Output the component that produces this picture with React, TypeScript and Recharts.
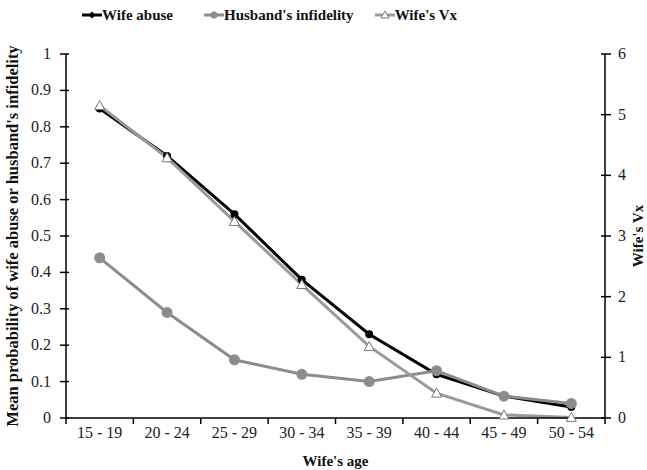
import React from 'react';
import { LineChart, Line, XAxis, YAxis } from 'recharts';

const ageGroups = ['15 - 19', '20 - 24', '25 - 29', '30 - 34', '35 - 39', '40 - 44', '45 - 49', '50 - 54'];
const wifeAbuse = [0.85, 0.72, 0.56, 0.38, 0.23, 0.12, 0.06, 0.03];
const husbandInfidelity = [0.44, 0.29, 0.16, 0.12, 0.1, 0.13, 0.06, 0.04];
const wifeVx = [5.15, 4.29, 3.24, 2.2, 1.18, 0.41, 0.05, 0.01];
const leftTicks = [0, 0.1, 0.2, 0.3, 0.4, 0.5, 0.6, 0.7, 0.8, 0.9, 1];
const rightTicks = [0, 1, 2, 3, 4, 5, 6];

const data = ageGroups.map((age, i) => ({
  age,
  abuse: wifeAbuse[i],
  infidelity: husbandInfidelity[i],
  vx: wifeVx[i],
}));

const FONT = '"Liberation Serif", "Times New Roman", serif';
const BLACK = '#000000';
const GRAY = '#8c8c8c';
const VX_GRAY = '#9a9a9a';

const W = 647;
const H = 470;
const LEFT_W = 66;
const RIGHT_W = 42;
const BAND = (W - LEFT_W - RIGHT_W) / ageGroups.length;

const XTick = (props: any) => {
  const { x, y, payload, index } = props;
  const top = y - 8;
  return (
    <g>
      <line x1={x - BAND / 2} y1={top} x2={x - BAND / 2} y2={top + 6} stroke="#000" strokeWidth={1.5} />
      {index === ageGroups.length - 1 && (
        <line x1={x + BAND / 2} y1={top} x2={x + BAND / 2} y2={top + 6} stroke="#000" strokeWidth={1.5} />
      )}
      <text x={x} y={y + 12} textAnchor="middle" fontFamily={FONT} fontSize={16} fill="#222">
        {payload.value}
      </text>
    </g>
  );
};

const LeftTick = (props: any) => {
  const { x, y, payload } = props;
  const ax = x + 7;
  return (
    <g>
      <line x1={ax - 5} y1={y} x2={ax + 4} y2={y} stroke="#000" strokeWidth={1.5} />
      <text x={ax - 14} y={y + 5} textAnchor="end" fontFamily={FONT} fontSize={16} fill="#222">
        {payload.value}
      </text>
    </g>
  );
};

const RightTick = (props: any) => {
  const { x, y, payload } = props;
  const ax = x - 7;
  return (
    <g>
      <line x1={ax - 5} y1={y} x2={ax + 5} y2={y} stroke="#000" strokeWidth={1.5} />
      <text x={ax + 12} y={y + 5} textAnchor="start" fontFamily={FONT} fontSize={16} fill="#222">
        {payload.value}
      </text>
    </g>
  );
};

const TriangleDot = (props: any) => {
  const { cx, cy, index } = props;
  if (cx == null || cy == null) return null;
  const s = 5;
  return (
    <path
      key={`tri-${index}`}
      d={`M${cx},${cy - s} L${cx + s},${cy + s * 0.8} L${cx - s},${cy + s * 0.8} Z`}
      fill="#fff"
      stroke="#777"
      strokeWidth={1}
    />
  );
};

// legend sits above the plot without taking space from it
const ChartLegend = () => {
  const items = [
    { label: 'Wife abuse', color: BLACK, marker: 'diamond', gap: 31 },
    { label: "Husband's infidelity", color: GRAY, marker: 'circle', gap: 21 },
    { label: "Wife's Vx", color: VX_GRAY, marker: 'triangle', gap: 0 },
  ];
  return (
    <div
      style={{
        position: 'absolute',
        top: 6,
        left: 82,
        display: 'flex',
        fontFamily: FONT,
        fontSize: 15,
        fontWeight: 'bold',
        color: '#111',
        lineHeight: '18px',
      }}
    >
      {items.map((it) => (
        <span key={it.label} style={{ display: 'flex', alignItems: 'center', marginRight: it.gap }}>
          <svg width={20} height={12}>
            <line x1={0} y1={6} x2={20} y2={6} stroke={it.color} strokeWidth={3} />
            {it.marker === 'diamond' && <path d="M10,2.5 L13.5,6 L10,9.5 L6.5,6 Z" fill={it.color} />}
            {it.marker === 'circle' && <circle cx={10} cy={6} r={3.5} fill={it.color} />}
            {it.marker === 'triangle' && <path d="M10,2 L14,9 L6,9 Z" fill="#fff" stroke="#777" strokeWidth={1} />}
          </svg>
          {it.label}
        </span>
      ))}
    </div>
  );
};

export default function App() {
  return (
    <div style={{ position: 'absolute', left: 0, top: 0, width: W, height: H, background: '#fff' }}>
      <LineChart width={W} height={H} data={data} margin={{ top: 54, right: 0, bottom: 0, left: 0 }}>
        <XAxis
          dataKey="age"
          height={52}
          padding={{ left: BAND / 2, right: BAND / 2 }}
          tick={<XTick />}
          tickLine={false}
          axisLine={{ stroke: '#000', strokeWidth: 1.5 }}
          interval={0}
          label={{ value: "Wife's age", position: 'insideBottom', offset: 4, fontFamily: FONT, fontSize: 15, fontWeight: 'bold', fill: '#111' }}
        />
        <YAxis
          yAxisId="left"
          width={LEFT_W}
          domain={[0, 1]}
          ticks={leftTicks}
          interval={0}
          tick={<LeftTick />}
          tickLine={false}
          axisLine={{ stroke: '#000', strokeWidth: 1.5 }}
          label={{
            value: "Mean probability  of wife abuse or husband's  infidelity",
            angle: -90,
            position: 'insideLeft',
            offset: 12,
            style: { textAnchor: 'middle', whiteSpace: 'pre' },
            fontFamily: FONT,
            fontSize: 16.5,
            fontWeight: 'bold',
            fill: '#111',
          }}
        />
        <YAxis
          yAxisId="right"
          orientation="right"
          width={RIGHT_W}
          domain={[0, 6]}
          ticks={rightTicks}
          interval={0}
          tick={<RightTick />}
          tickLine={false}
          axisLine={{ stroke: '#000', strokeWidth: 1.5 }}
          label={{
            value: "Wife's Vx",
            angle: -90,
            position: 'insideRight',
            offset: 9,
            style: { textAnchor: 'middle' },
            fontFamily: FONT,
            fontSize: 15,
            fontWeight: 'bold',
            fill: '#111',
          }}
        />
        <Line
          yAxisId="left"
          dataKey="abuse"
          stroke={BLACK}
          strokeWidth={3}
          dot={{ r: 2.5, fill: BLACK, stroke: BLACK }}
          isAnimationActive={false}
        />
        <Line
          yAxisId="left"
          dataKey="infidelity"
          stroke={GRAY}
          strokeWidth={3}
          dot={{ r: 4, fill: GRAY, stroke: GRAY }}
          isAnimationActive={false}
        />
        <Line
          yAxisId="right"
          dataKey="vx"
          stroke={VX_GRAY}
          strokeWidth={3}
          dot={<TriangleDot />}
          isAnimationActive={false}
        />
      </LineChart>
      <ChartLegend />
    </div>
  );
}
